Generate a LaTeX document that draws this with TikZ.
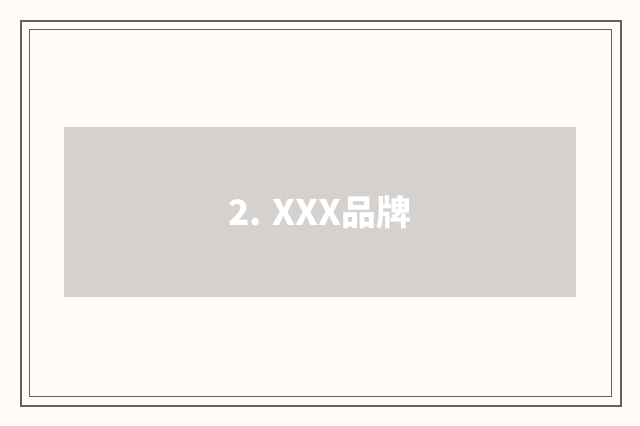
\documentclass[tikz,border=0pt]{standalone}
\usepackage{fontspec}
\newfontfamily\cjk{Noto Sans CJK SC}
\definecolor{bgc}{HTML}{FFFAF6}
\definecolor{framec}{HTML}{646060}
\definecolor{boxc}{HTML}{D4D1CE}
\tikzset{
  outerframe/.style={draw=framec, line width=2bp},
  innerframe/.style={draw=framec, line width=1bp},
  titlebox/.style={fill=boxc, draw=none, minimum width=512bp, minimum height=170bp, inner sep=0pt,
    text=white, font=\cjk\bfseries\fontsize{35bp}{40bp}\selectfont},
}
\begin{document}
\begin{tikzpicture}[x=1bp,y=-1bp]
\useasboundingbox[fill=bgc] (0,0) rectangle (640,425);
\draw[outerframe] (21,21) rectangle (621,406);
\draw[innerframe] (29.5,29.5) rectangle (611,396.5);
\node[titlebox] (title) at (320,212) {2. XXX品牌};
\end{tikzpicture}
\end{document}
